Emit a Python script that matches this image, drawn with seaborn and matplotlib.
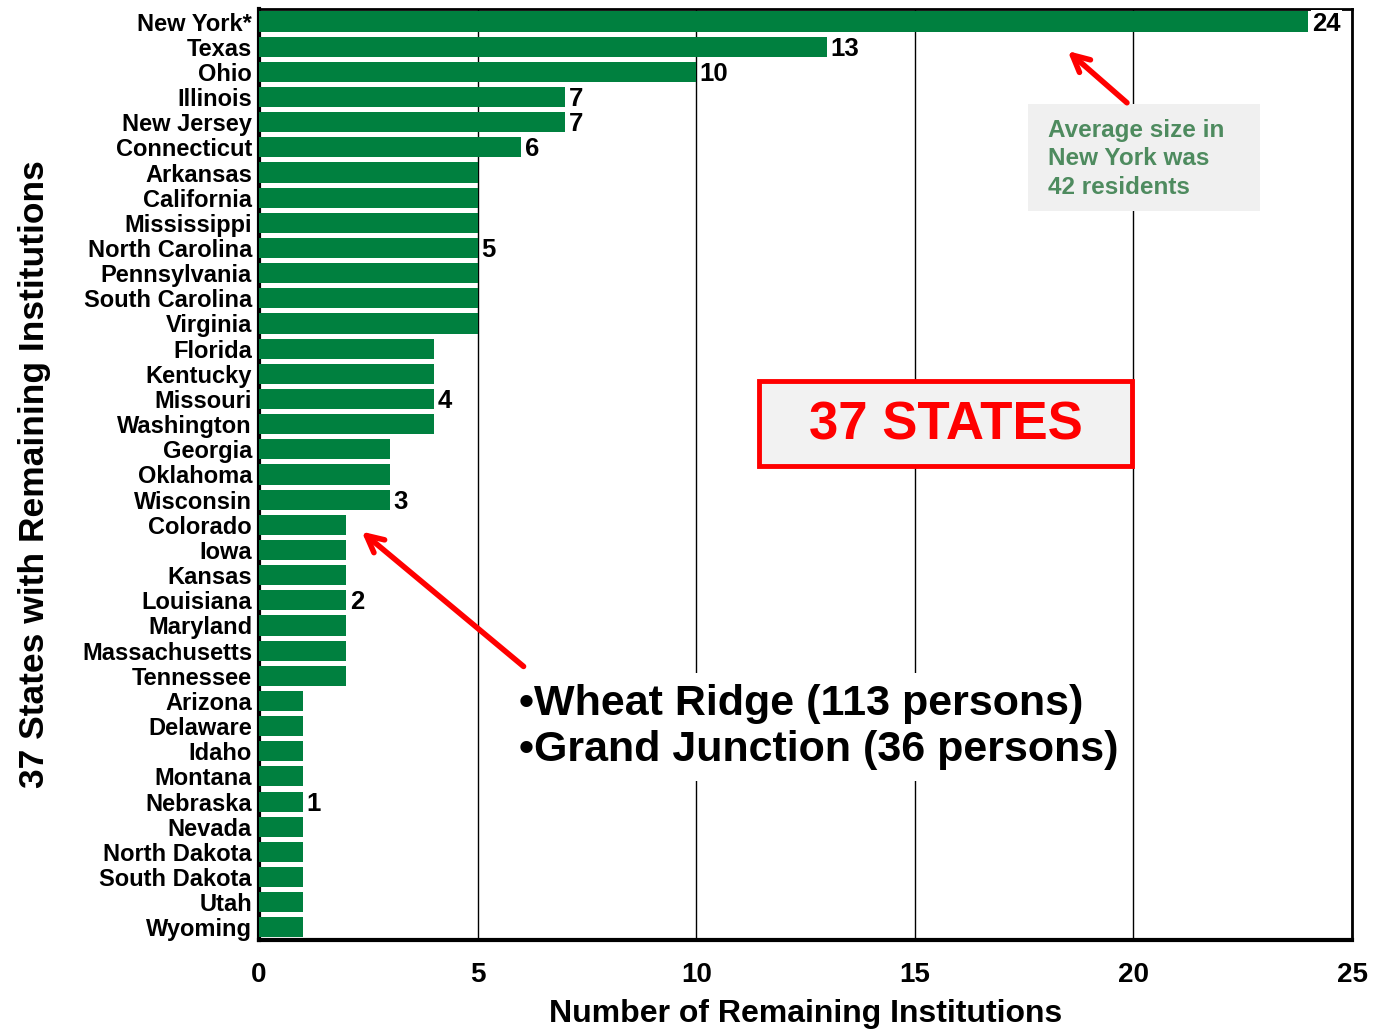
import matplotlib
matplotlib.use("Agg")
import matplotlib.pyplot as plt
import matplotlib.patches as mpatches
import pandas as pd
import seaborn as sns

# ---------------------------------------------------------------------------
# Data
# ---------------------------------------------------------------------------
STATES = [
    "New York*", "Texas", "Ohio", "Illinois", "New Jersey", "Connecticut",
    "Arkansas", "California", "Mississippi", "North Carolina", "Pennsylvania",
    "South Carolina", "Virginia", "Florida", "Kentucky", "Missouri",
    "Washington", "Georgia", "Oklahoma", "Wisconsin", "Colorado", "Iowa",
    "Kansas", "Louisiana", "Maryland", "Massachusetts", "Tennessee",
    "Arizona", "Delaware", "Idaho", "Montana", "Nebraska", "Nevada",
    "North Dakota", "South Dakota", "Utah", "Wyoming",
]
COUNTS = [24, 13, 10, 7, 7, 6, 5, 5, 5, 5, 5, 5, 5, 4, 4, 4, 4, 3, 3, 3,
          2, 2, 2, 2, 2, 2, 2, 1, 1, 1, 1, 1, 1, 1, 1, 1, 1]
# states whose bar carries a value label
LABELLED = ["New York*", "Texas", "Ohio", "Illinois", "New Jersey",
            "Connecticut", "North Carolina", "Missouri", "Wisconsin",
            "Louisiana", "Nebraska"]
X_TICKS = [0, 5, 10, 15, 20, 25]

GREEN = "#00803F"
RED = "#FF0000"

# ---------------------------------------------------------------------------
# Style
# ---------------------------------------------------------------------------
sns.set_style("white")
plt.rcParams["font.family"] = ["Liberation Sans", "DejaVu Sans"]
plt.rcParams["font.weight"] = "bold"
plt.rcParams["text.color"] = "black"
plt.rcParams["axes.labelcolor"] = "black"
plt.rcParams["xtick.color"] = "black"
plt.rcParams["ytick.color"] = "black"

df = pd.DataFrame({"state": STATES, "count": COUNTS})

fig = plt.figure(figsize=(13.74, 10.30), dpi=100)
ax = fig.add_axes([0.1885, 0.0874, 0.7955, 0.9039])

sns.barplot(data=df, x="count", y="state", orient="h", color=GREEN,
            saturation=1, width=0.8, linewidth=0, ax=ax, zorder=3)

ax.set_xlim(0, 25)
ax.set_ylim(len(STATES) - 0.5, -0.5)
ax.set_xticks(X_TICKS)
ax.set_xticklabels([str(t) for t in X_TICKS], fontsize=20, fontweight="bold")
ax.tick_params(axis="x", length=0, pad=16)
ax.tick_params(axis="y", length=0, pad=5, labelsize=17)
for lbl in ax.get_yticklabels():
    lbl.set_fontweight("bold")

ax.xaxis.grid(True, color="black", linewidth=1)
ax.yaxis.grid(False)
ax.set_axisbelow(True)

ax.set_xlabel("Number of Remaining Institutions", fontsize=23,
              fontweight="bold", labelpad=8)
ax.set_ylabel("37 States with Remaining Institutions", fontsize=25.5,
              fontweight="bold", labelpad=22)

for side, lw in [("left", 3), ("bottom", 3), ("right", 2), ("top", 2)]:
    ax.spines[side].set_visible(True)
    ax.spines[side].set_color("black")
    ax.spines[side].set_linewidth(lw)

# value labels
for i, (st, c) in enumerate(zip(STATES, COUNTS)):
    if st in LABELLED:
        ax.text(c + 0.08, i + 0.08, str(c), va="center", ha="left",
                fontsize=18.5, fontweight="bold", zorder=5,
                bbox=dict(facecolor="white", edgecolor="none", pad=1))

# ---------------------------------------------------------------------------
# Annotations
# ---------------------------------------------------------------------------
# New York note
ax.add_patch(mpatches.Rectangle((17.59, 3.28), 5.31, 4.25, facecolor="#F0F0F0",
                                edgecolor="none", zorder=4))
ax.text(18.05, 5.45, "Average size in\nNew York was\n42 residents",
        color="#4E8B5F", fontsize=17.5, fontweight="bold", ha="left",
        va="center", linespacing=1.3, zorder=5)
ax.annotate("", xy=(18.45, 1.1), xytext=(19.9, 3.3),
            arrowprops=dict(arrowstyle="->", color=RED, lw=4,
                            mutation_scale=30), zorder=6)

# 37 STATES box
ax.add_patch(mpatches.Rectangle((11.44, 14.29), 8.53, 3.37, facecolor="#F2F2F2",
                                edgecolor=RED, linewidth=3.5, zorder=4))
ax.text(15.7, 16.05, "37 STATES", color=RED, fontsize=38,
        fontweight="bold", ha="center", va="center", zorder=5)

# Colorado facilities
ax.text(5.95, 28.05,
        "\u2022Wheat Ridge (113 persons)\n\u2022Grand Junction (36 persons)",
        fontsize=31, fontweight="bold", ha="left", va="center",
        linespacing=1.19, zorder=5,
        bbox=dict(facecolor="white", edgecolor="none", pad=8))
ax.annotate("", xy=(2.3, 20.2), xytext=(6.1, 25.7),
            arrowprops=dict(arrowstyle="->", color=RED, lw=4,
                            mutation_scale=30), zorder=6)

fig.savefig("out.png", dpi=100, facecolor="white")
